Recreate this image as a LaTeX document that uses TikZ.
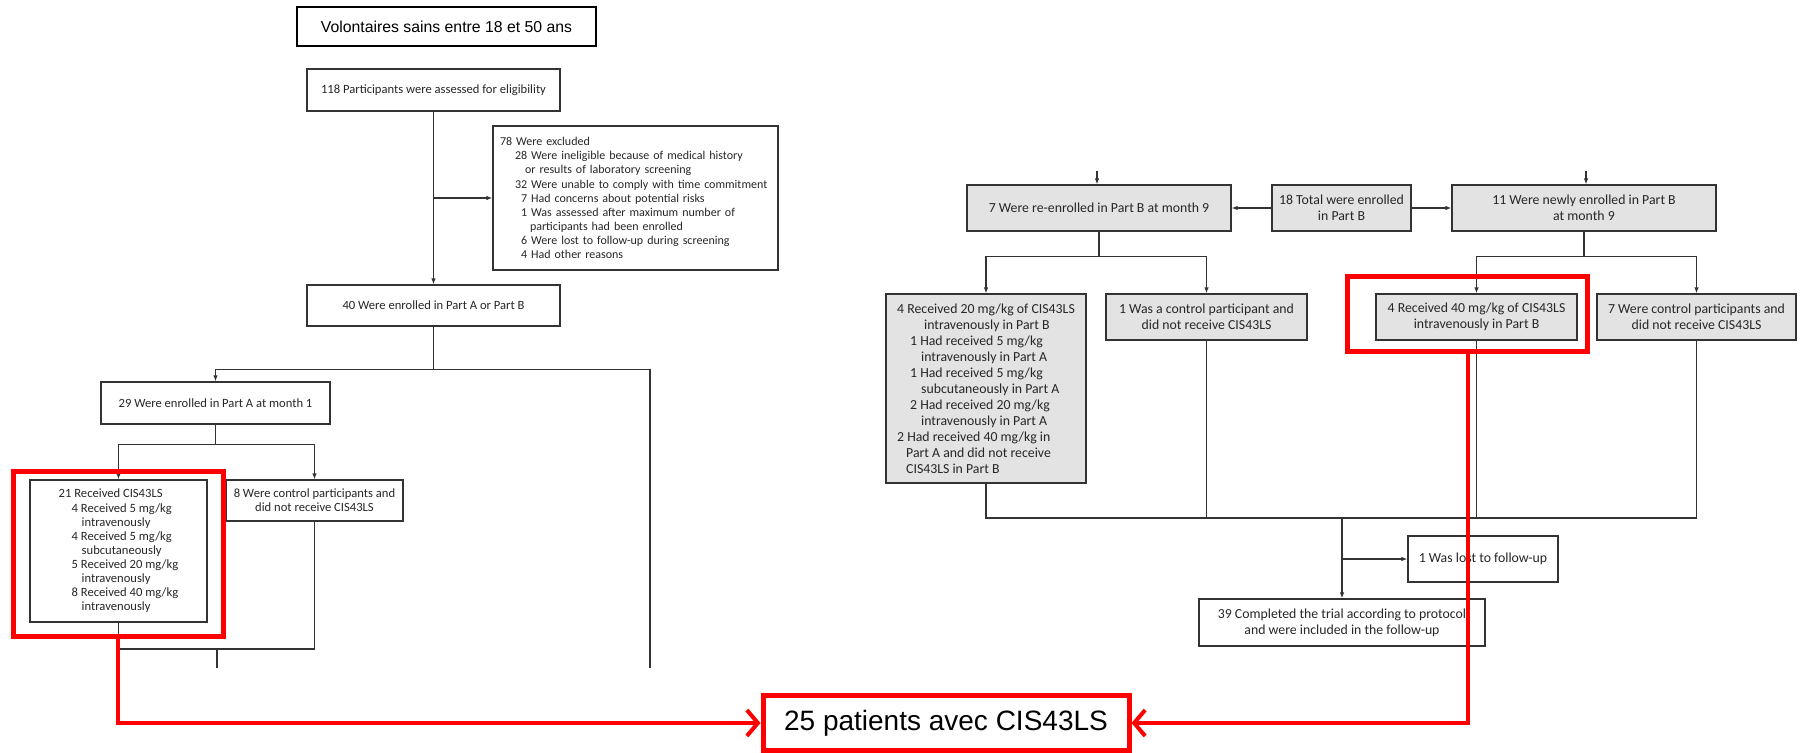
\documentclass[tikz,border=0pt]{standalone}
\usepackage{fontspec}
\newfontfamily\nejm{Carlito}
\newfontfamily\arial{Liberation Sans}
\usetikzlibrary{arrows.meta,positioning,calc}
\definecolor{flowline}{HTML}{333333}
\definecolor{partbgray}{HTML}{E3E3E3}
\definecolor{markred}{HTML}{FF0000}

\begin{document}
\begin{tikzpicture}
	% Styles
	[
	x=1pt,y=-1pt,
	stage/.style={draw=flowline,line width=1.2pt,inner sep=0pt,align=center,text=black!85,font=\nejm\fontsize{12.6pt}{14.1pt}\selectfont},
	stageb/.style={stage,fill=partbgray,font=\nejm\fontsize{13.8pt}{16pt}\selectfont},
	titlebox/.style={draw=black,line width=1.4pt,inner sep=0pt,font=\arial\fontsize{15.8pt}{18pt}\selectfont},
	redframe/.style={draw=markred,line width=5pt,inner sep=0pt},
	finalbox/.style={redframe,fill=white,font=\arial\fontsize{28pt}{32pt}\selectfont},
	flow/.style={draw=flowline,line width=1.2pt},
	flowarr/.style={flow,-{Latex[length=6pt,width=4.5pt]}},
	redlink/.style={draw=markred,line width=4pt,-{Straight Barb[length=11pt,width=26pt]}},
	]
	\useasboundingbox (0,0) rectangle (1806,752);

	% Nodes
	\node at (446.5,26.5)	(vol)	[titlebox,minimum width=299,minimum height=39] {Volontaires sains entre 18 et 50 ans};
	\node at (433.5,90)	(elig)	[stage,minimum width=253,minimum height=42] {118 Participants were assessed for eligibility};
	\node at (635.5,198)	(excl)	[stage,font=\nejm\fontsize{12pt}{14.1pt}\selectfont,align=left,text width=271pt,inner xsep=7pt,minimum height=144] {78 Were excluded\\
		\hspace*{15pt}28 Were ineligible because of medical history\\
		\hspace*{25pt}or results of laboratory screening\\
		\hspace*{15pt}32 Were unable to comply with time commitment\\
		\hspace*{21pt}7 Had concerns about potential risks\\
		\hspace*{21pt}1 Was assessed after maximum number of\\
		\hspace*{30pt}participants had been enrolled\\
		\hspace*{21pt}6 Were lost to follow-up during screening\\
		\hspace*{21pt}4 Had other reasons};
	\node at (433.5,305.5)	(enrol)	[stage,minimum width=253,minimum height=41] {40 Were enrolled in Part A or Part B};
	\node at (215.5,403)	(partA)	[stage,minimum width=229,minimum height=42] {29 Were enrolled in Part A at month 1};
	\node at (118.5,551)	(recv)	[stage,align=left,minimum width=177,minimum height=142] {21 Received CIS43LS\\
		\hspace*{13pt}4 Received 5 mg/kg\\
		\hspace*{23pt}intravenously\\
		\hspace*{13pt}4 Received 5 mg/kg\\
		\hspace*{23pt}subcutaneously\\
		\hspace*{13pt}5 Received 20 mg/kg\\
		\hspace*{23pt}intravenously\\
		\hspace*{13pt}8 Received 40 mg/kg\\
		\hspace*{23pt}intravenously};
	\node at (314.5,500.5)	(ctrlA)	[stage,minimum width=177,minimum height=41] {8 Were control participants and\\did not receive CIS43LS};

	\node at (1099,208)	(reen)	[stageb,minimum width=264,minimum height=46] {7 Were re-enrolled in Part B at month 9};
	\node at (1341.5,208)	(total)	[stageb,minimum width=139,minimum height=46] {18 Total were enrolled\\in Part B};
	\node at (1584,208)	(newly)	[stageb,minimum width=264,minimum height=46] {11 Were newly enrolled in Part B\\at month 9};
	\node at (986,388.5)	(recB20)	[stageb,align=left,minimum width=200,minimum height=189] {4 Received 20 mg/kg of CIS43LS\\
		\hspace*{27pt}intravenously in Part B\\
		\hspace*{13pt}1 Had received 5 mg/kg\\
		\hspace*{24pt}intravenously in Part A\\
		\hspace*{13pt}1 Had received 5 mg/kg\\
		\hspace*{24pt}subcutaneously in Part A\\
		\hspace*{13pt}2 Had received 20 mg/kg\\
		\hspace*{24pt}intravenously in Part A\\
		2 Had received 40 mg/kg in\\
		\hspace*{9pt}Part A and did not receive\\
		\hspace*{9pt}CIS43LS in Part B};
	\node at (1206.5,317)	(ctrlB1)	[stageb,minimum width=201,minimum height=46] {1 Was a control participant and\\did not receive CIS43LS};
	\node at (1476.5,317)	(recB40)	[stageb,minimum width=201,minimum height=46] {4 Received 40 mg/kg of CIS43LS\\intravenously in Part B};
	\node at (1696.5,317)	(ctrlB7)	[stageb,minimum width=199,minimum height=46] {7 Were control participants and\\did not receive CIS43LS};
	\node at (1483,559)	(lost)	[stageb,fill=white,minimum width=150,minimum height=46] {1 Was lost to follow-up};
	\node at (1342,622.5)	(done)	[stageb,fill=white,minimum width=286,minimum height=47] {39 Completed the trial according to protocol\\and were included in the follow-up};

	\coordinate (cutA) at (650,668);
	\coordinate (cutB) at (217,668);
	\coordinate (joinA) at (217,649);
	\coordinate (inB1) at (1097,171);
	\coordinate (inB2) at (1586,171);
	\coordinate (joinB) at (1342,518);

	% Connections
	\draw[flowarr] (elig) -- (enrol);
	\draw[flowarr] (elig.south |- excl.west) -- (excl.west);
	\draw[flowarr] (enrol.south) -- ++(0,43) -| (partA.north);
	\draw[flow] (enrol.south) -- ++(0,43) -| (cutA);
	\draw[flowarr] (partA.south) -- ++(0,20) -| (recv.north);
	\draw[flowarr] (partA.south) -- ++(0,20) -| (ctrlA.north);
	\draw[flow] (recv.south) |- (joinA) -- (cutB);
	\draw[flow] (ctrlA.south) |- (joinA);

	\draw[flowarr] (inB1) -- (inB1 |- reen.north);
	\draw[flowarr] (inB2) -- (inB2 |- newly.north);
	\draw[flowarr] (total.west) -- (reen.east);
	\draw[flowarr] (total.east) -- (newly.west);
	\draw[flowarr] (reen.south) -- ++(0,25) -| (recB20.north);
	\draw[flowarr] (reen.south) -- ++(0,25) -| (ctrlB1.north);
	\draw[flowarr] (newly.south) -- ++(0,25) -| (recB40.north);
	\draw[flowarr] (newly.south) -- ++(0,25) -| (ctrlB7.north);
	\draw[flow] (recB20.south) |- (joinB) -| (ctrlB7.south);
	\draw[flow] (ctrlB1.south) -- (ctrlB1.south |- joinB);
	\draw[flow] (recB40.south) -- (recB40.south |- joinB);
	\draw[flowarr] (joinB) -- (done.north);
	\draw[flowarr] (joinB |- lost.west) -- (lost.west);

	% Highlight
	\node at (118.25,554)	(frameA)	[redframe,minimum width=209.5,minimum height=165] {};
	\node at (1467.5,314)	(frameB)	[redframe,minimum width=240,minimum height=75] {};
	\node at (946,723)	(final)	[finalbox,minimum width=366,minimum height=55] {25 patients avec CIS43LS};
	\draw[redlink] (frameA.south) |- (final.west);
	\draw[redlink] (frameB.south) |- (final.east);

\end{tikzpicture}
\end{document}
